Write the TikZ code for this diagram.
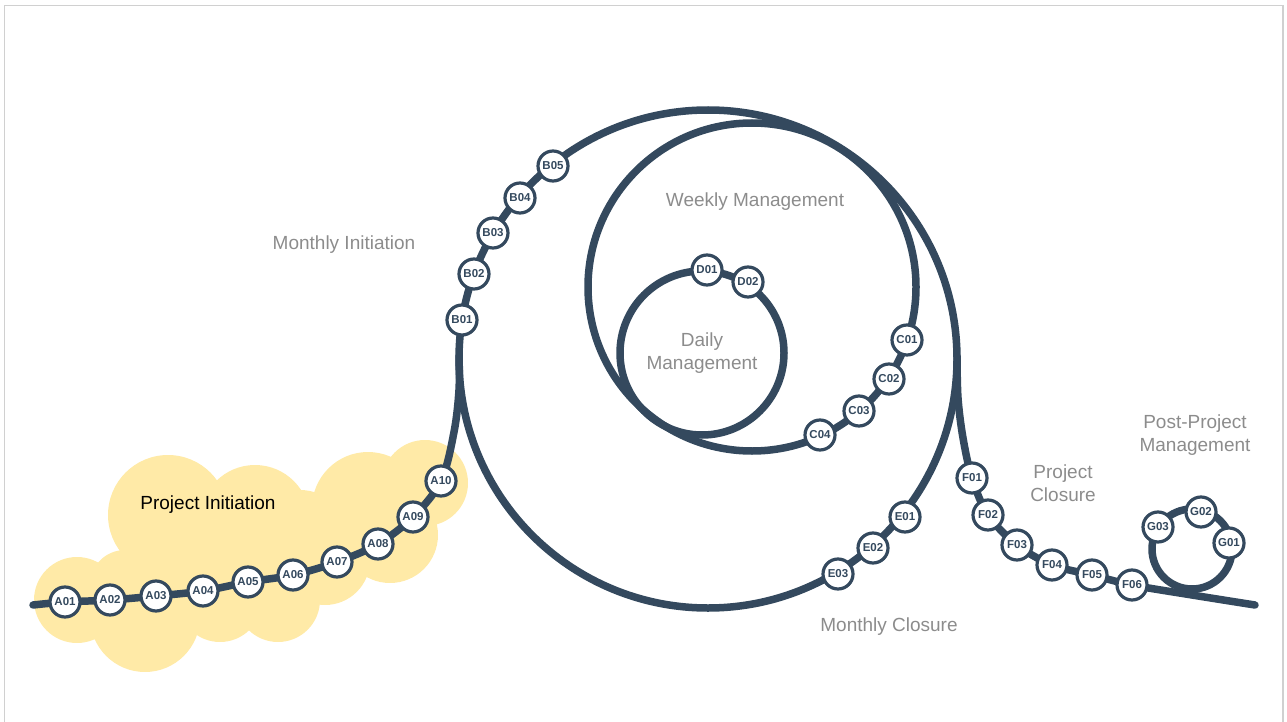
\documentclass[tikz,border=0pt]{standalone}
\usepackage{fontspec}
\setmainfont{Liberation Sans}
\definecolor{navy}{RGB}{52,73,94}
\definecolor{lblgray}{RGB}{140,140,140}
\definecolor{cloudy}{RGB}{255,234,167}
\definecolor{framegray}{RGB}{208,208,208}
\begin{document}
\begin{tikzpicture}[x=1pt,y=-1pt,
  track/.style={draw=navy, line width=7.5pt, line cap=round, line join=round},
  stop/.style={circle, draw=navy, line width=3.2pt, fill=white, minimum size=30pt, inner sep=0pt,
    font=\fontsize{11.5}{11.5}\selectfont\bfseries, text=navy},
  lbl/.style={text=lblgray, font=\fontsize{19}{23}\selectfont, align=center, inner sep=0pt},
]
\useasboundingbox (0,0) rectangle (1287,722);
\draw[framegray, line width=1.3pt] (4.5,730) -- (4.5,5.5) -- (1283,5.5) -- (1283,730);

% cloud
\fill[cloudy]
  (77,600) circle[radius=43pt]
  (125,585) circle[radius=35pt]
  (168,515) circle[radius=60pt]
  (255,520) circle[radius=55pt]
  (368,508) circle[radius=56pt]
  (425,483) circle[radius=43pt]
  (390,535) circle[radius=48pt]
  (325,560) circle[radius=45pt]
  (278,600) circle[radius=42pt]
  (220,600) circle[radius=42pt]
  (145,617) circle[radius=55pt]
  (210,555) circle[radius=55pt]
  (300,540) circle[radius=50pt];

% positions
\coordinate (a0) at (33,605);
\coordinate (a1) at (65,602);
\coordinate (a2) at (110,600);
\coordinate (a3) at (156,596);
\coordinate (a4) at (203,591);
\coordinate (a5) at (248,582);
\coordinate (a6) at (293,575);
\coordinate (a7) at (337,562);
\coordinate (a8) at (378,544);
\coordinate (a9) at (413,517);
\coordinate (a10) at (441,481);
\coordinate (b1) at (462,320);
\coordinate (b2) at (474,274);
\coordinate (b3) at (493,233);
\coordinate (b4) at (520,198);
\coordinate (b5) at (553,166);
\coordinate (c1) at (907,340);
\coordinate (c2) at (889,379);
\coordinate (c3) at (859,411);
\coordinate (c4) at (820,435);
\coordinate (d1) at (707,270);
\coordinate (d2) at (748,282);
\coordinate (e1) at (905,517);
\coordinate (e2) at (873,548);
\coordinate (e3) at (838,574);
\coordinate (f1) at (972,478);
\coordinate (f2) at (988,515);
\coordinate (f3) at (1017,545);
\coordinate (f4) at (1052,565);
\coordinate (f5) at (1092,575);
\coordinate (f6) at (1132,585);
\coordinate (fend) at (1255,605);
\coordinate (g1) at (1229,543);
\coordinate (g2) at (1201,512);
\coordinate (g3) at (1158,527);

\coordinate (mC) at (708,359);
\coordinate (wC) at (752,287);
\coordinate (dC) at (702,353);
\coordinate (gC) at (1192,549);

% loops
\draw[track] (mC) circle[radius=249pt];
\draw[track] (wC) circle[radius=164pt];
\draw[track] (dC) circle[radius=82pt];
\draw[track] (gC) circle[radius=40pt];

% entry and exit tracks
\draw[track] plot[smooth, tension=0.55] coordinates {(a0) (a1) (a2) (a3) (a4) (a5) (a6) (a7) (a8) (a9) (a10) (454,432) (459,390) (459,356)};
\draw[track] plot[smooth, tension=0.55] coordinates {(957,356) (958,398) (963,438) (f1) (f2) (f3) (f4) (f5) (f6) (1192,595) (fend)};

% stops
\foreach \n/\t in {a1/A01,a2/A02,a3/A03,a4/A04,a5/A05,a6/A06,a7/A07,a8/A08,a9/A09,a10/A10,
  b1/B01,b2/B02,b3/B03,b4/B04,b5/B05,c1/C01,c2/C02,c3/C03,c4/C04,d1/D01,d2/D02,
  e1/E01,e2/E02,e3/E03,f1/F01,f2/F02,f3/F03,f4/F04,f5/F05,f6/F06,g1/G01,g2/G02,g3/G03}
  \node[stop] (\t) at (\n) {\t};

% labels
\node[lbl, text=black] (lPI) at (208,505) {Project Initiation};
\node[lbl] (lMI) at (344,245) {Monthly Initiation};
\node[lbl] (lWM) at (755,202) {Weekly Management};
\node[lbl] (lDM) at (702,353) {Daily\\Management};
\node[lbl] (lPC) at (1063,483) {Project\\Closure};
\node[lbl] (lPP) at (1195,435) {Post-Project\\Management};
\node[lbl] (lMC) at (889,627) {Monthly Closure};
\end{tikzpicture}
\end{document}
